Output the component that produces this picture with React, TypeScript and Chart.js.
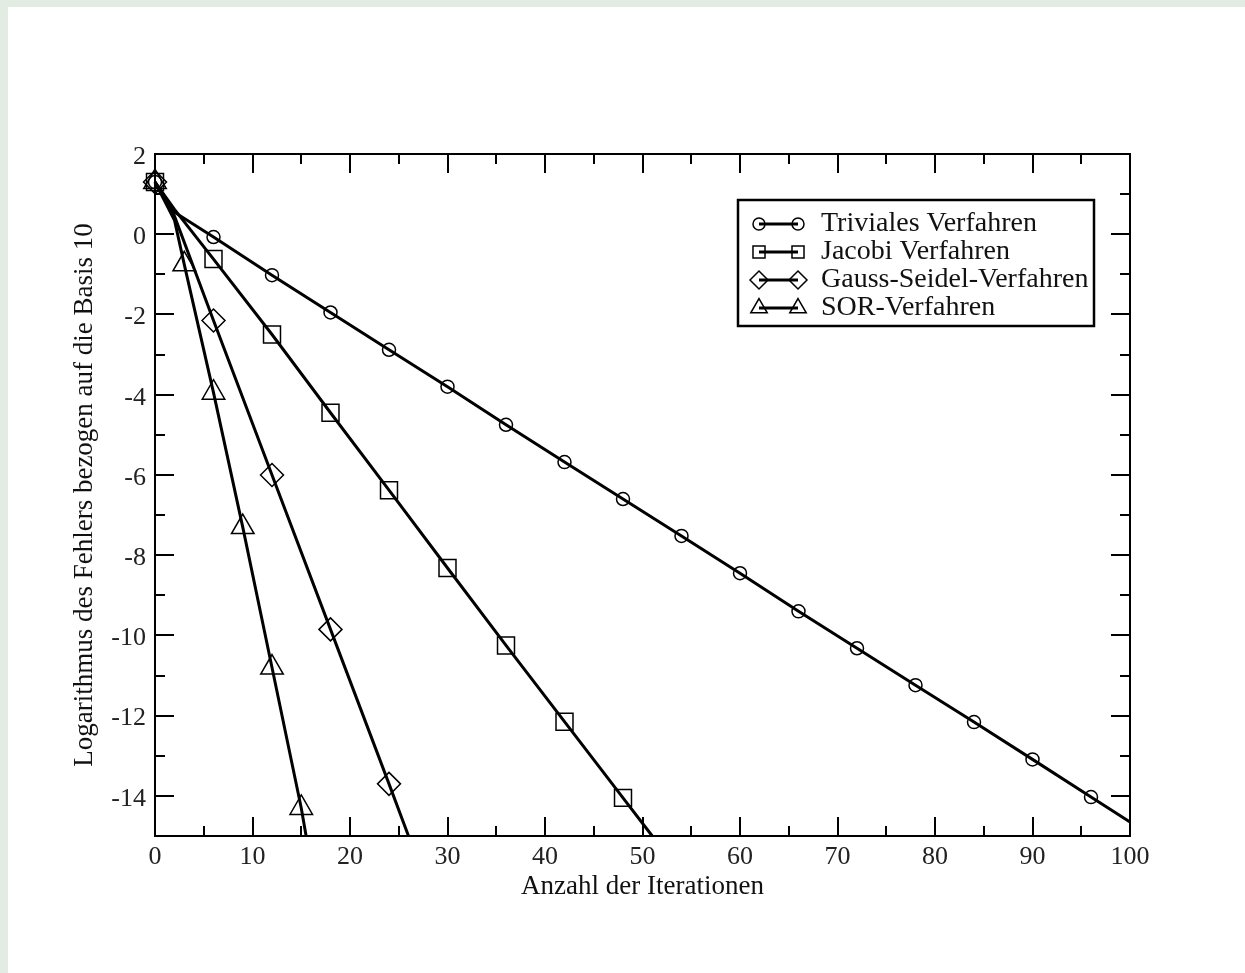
import React, { useEffect, useRef } from "react";
import { Chart, registerables } from "chart.js";
import { drawPoint } from "chart.js/helpers";

Chart.register(...registerables);

// ---- data ----
const trivialX = [0, 2, 6, 12, 18, 24, 30, 36, 42, 48, 54, 60, 66, 72, 78, 84, 90, 96, 100];
const trivialY = [1.3, 0.55, -0.07, -1.02, -1.95, -2.88, -3.8, -4.75, -5.68, -6.6, -7.52, -8.45, -9.4, -10.32, -11.24, -12.16, -13.09, -14.03, -14.65];

const jacobiX = [0, 2, 6, 12, 18, 24, 30, 36, 42, 48, 51];
const jacobiY = [1.3, 0.62, -0.62, -2.5, -4.45, -6.38, -8.32, -10.25, -12.15, -14.05, -15];

const gaussX = [0, 2, 6, 12, 18, 24, 26];
const gaussY = [1.3, 0.45, -2.15, -6.0, -9.85, -13.7, -15];

const sorX = [0, 2, 3, 6, 9, 12, 15, 15.5];
const sorY = [1.3, 0.35, -0.75, -3.95, -7.3, -10.8, -14.3, -15];

const seriesNames = ["Triviales Verfahren", "Jacobi Verfahren", "Gauss-Seidel-Verfahren", "SOR-Verfahren"];
const markerEvery = [6, 6, 6, 3];

const xTickValues = [0, 10, 20, 30, 40, 50, 60, 70, 80, 90, 100];
const yTickValues = [-14, -12, -10, -8, -6, -4, -2, 0, 2];
const xMinorStep = 5;
const yMinorStep = 1;

const xTitle = "Anzahl der Iterationen";
const yTitle = "Logarithmus des Fehlers bezogen auf die Basis 10";

// ---- styles ----
const FONT = "'Liberation Serif', 'Times New Roman', serif";
const pointStyles = ["circle", "rect", "rectRot", "triangle"];
const pointRadii = [6.5, 12, 11.5, 13];
const legendRadii = [6, 8.5, 9, 9.5];

const toPoints = (xs: number[], ys: number[]) => xs.map((x, i) => ({ x, y: ys[i] }));

const framePlugin = {
  id: "frameTicks",
  afterDraw(chart: any) {
    const { ctx, chartArea } = chart;
    const xs = chart.scales.x;
    const ys = chart.scales.y;
    const { left, right, top, bottom } = chartArea;
    ctx.save();
    ctx.strokeStyle = "#000";
    ctx.lineWidth = 2;
    ctx.strokeRect(left, top, right - left, bottom - top);
    ctx.beginPath();
    for (let v = xs.min; v <= xs.max + 1e-9; v += xMinorStep) {
      const major = Math.abs(v % 10) < 1e-9;
      const len = major ? 19 : 10;
      const px = Math.round(xs.getPixelForValue(v));
      ctx.moveTo(px, bottom);
      ctx.lineTo(px, bottom - len);
      ctx.moveTo(px, top);
      ctx.lineTo(px, top + len);
    }
    for (let v = ys.min; v <= ys.max + 1e-9; v += yMinorStep) {
      const major = Math.abs(v % 2) < 1e-9;
      const len = major ? 19 : 10;
      const py = Math.round(ys.getPixelForValue(v));
      ctx.moveTo(left, py);
      ctx.lineTo(left + len, py);
      ctx.moveTo(right, py);
      ctx.lineTo(right - len, py);
    }
    ctx.stroke();

    // legend
    const bx = 738, by = 200, bw = 356, bh = 126;
    ctx.fillStyle = "#fff";
    ctx.fillRect(bx, by, bw, bh);
    ctx.lineWidth = 2.5;
    ctx.strokeRect(bx, by, bw, bh);
    chart.data.datasets.forEach((ds: any, i: number) => {
      const y = 224 + i * 28;
      ctx.lineWidth = 3;
      ctx.strokeStyle = "#000";
      ctx.beginPath();
      ctx.moveTo(759, y);
      ctx.lineTo(798, y);
      ctx.stroke();
      const opts = {
        pointStyle: pointStyles[i],
        radius: legendRadii[i],
        rotation: 0,
        borderWidth: 1.5,
      };
      ctx.lineWidth = 1.5;
      ctx.strokeStyle = "#000";
      ctx.fillStyle = "rgba(0,0,0,0)";
      drawPoint(ctx, opts, 759, y);
      drawPoint(ctx, opts, 798, y);
      ctx.fillStyle = "#111";
      ctx.font = `28px ${FONT}`;
      ctx.textBaseline = "middle";
      ctx.textAlign = "left";
      ctx.fillText(ds.label, 821, y);
    });
    ctx.restore();
  },
};

export default function App() {
  const ref = useRef<HTMLCanvasElement | null>(null);
  useEffect(() => {
    if (!ref.current) return;
    const all = [
      toPoints(trivialX, trivialY),
      toPoints(jacobiX, jacobiY),
      toPoints(gaussX, gaussY),
      toPoints(sorX, sorY),
    ];
    const chart = new Chart(ref.current, {
      type: "scatter",
      data: {
        datasets: all.map((d, i) => ({
          label: seriesNames[i],
          data: d,
          showLine: true,
          borderColor: "#000",
          borderWidth: 3,
          tension: 0,
          clip: false,
          pointStyle: pointStyles[i],
          pointBorderColor: "#000",
          pointBackgroundColor: "rgba(0,0,0,0)",
          pointBorderWidth: 1.5,
          pointRadius: (c: any) => {
            const p = c.raw;
            if (!p) return 0;
            return p.x % markerEvery[i] === 0 ? pointRadii[i] : 0;
          },
          pointHoverRadius: 0,
        })),
      },
      options: {
        animation: false,
        responsive: false,
        events: [],
        layout: { padding: { left: 0, top: 154, right: 115, bottom: 67 } },
        plugins: { legend: { display: false }, tooltip: { enabled: false } },
        scales: {
          x: {
            type: "linear",
            min: 0,
            max: 100,
            afterBuildTicks: (s: any) => {
              s.ticks = xTickValues.map((v) => ({ value: v }));
            },
            afterFit: (s: any) => {
              s.height = 70;
            },
            grid: { display: false, drawTicks: false },
            border: { display: false },
            ticks: {
              padding: 6,
              color: "#222",
              font: { family: FONT, size: 26 },
              maxRotation: 0,
              autoSkip: false,
            },
            title: {
              display: true,
              text: xTitle,
              color: "#111",
              font: { family: FONT, size: 27 },
              padding: { top: 0, bottom: 3 },
            },
          },
          y: {
            type: "linear",
            min: -15,
            max: 2,
            afterBuildTicks: (s: any) => {
              s.ticks = yTickValues.map((v) => ({ value: v }));
            },
            afterFit: (s: any) => {
              s.width = 155;
            },
            grid: { display: false, drawTicks: false },
            border: { display: false },
            ticks: {
              padding: 9,
              labelOffset: 3,
              color: "#222",
              font: { family: FONT, size: 26 },
              autoSkip: false,
            },
            title: {
              display: true,
              text: yTitle,
              color: "#111",
              font: { family: FONT, size: 27 },
              padding: { top: 69, bottom: 0 },
            },
          },
        },
      },
      plugins: [framePlugin],
    } as any);
    return () => chart.destroy();
  }, []);

  return (
    <div style={{ position: "fixed", left: 0, top: 0, width: 1245, height: 973, background: "#e3ece3" }}>
      <div style={{ position: "absolute", left: 8, top: 7, right: 0, bottom: 0, background: "#fff" }} />
      <canvas
        ref={ref}
        width={1245}
        height={973}
        style={{ position: "absolute", left: 0, top: 0, width: 1245, height: 973 }}
      />
    </div>
  );
}
